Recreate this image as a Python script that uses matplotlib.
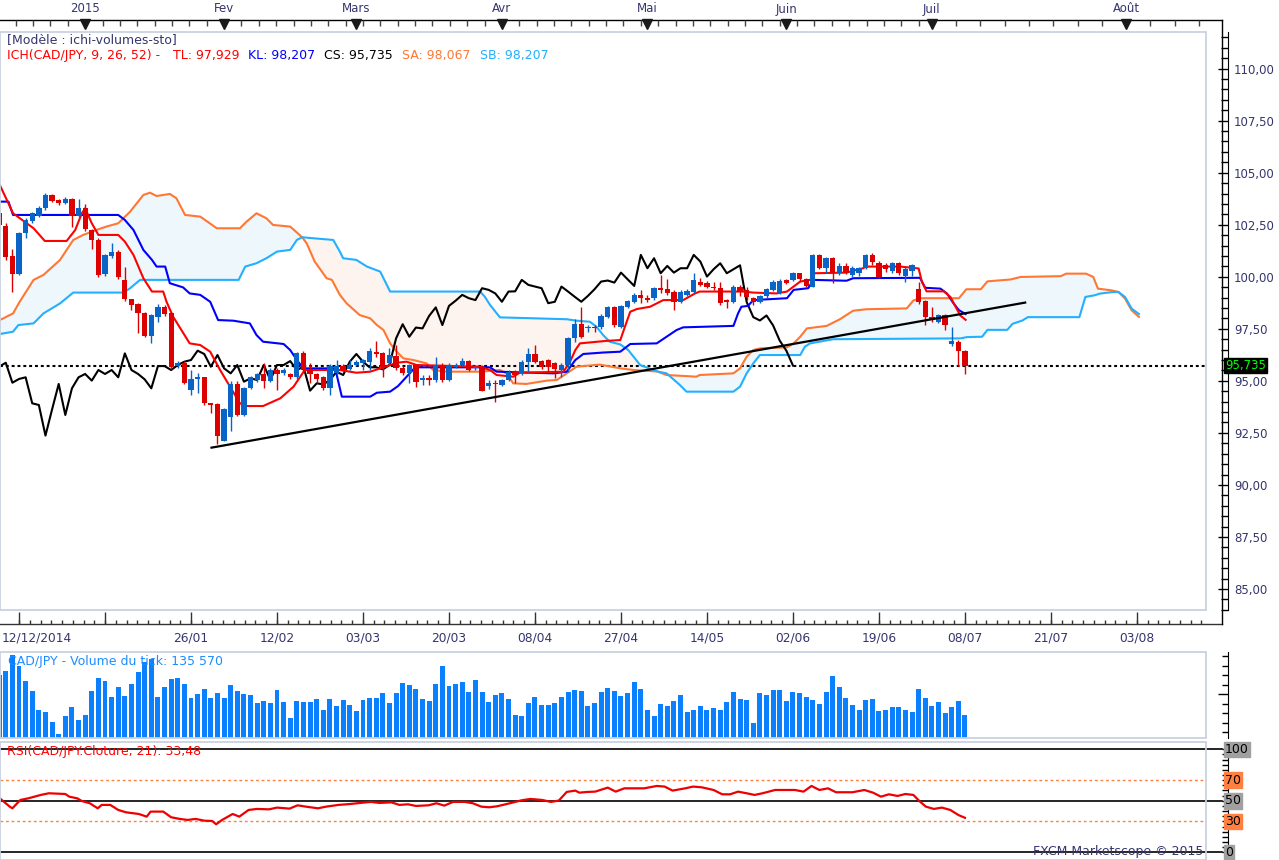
import numpy as np
import matplotlib.pyplot as plt
from matplotlib.patches import Rectangle
from matplotlib.lines import Line2D
from matplotlib.ticker import FuncFormatter, MultipleLocator, NullFormatter
import matplotlib.transforms as mtransforms

W, H = 1279, 860
PX0, DX = 191.0, 6.615  # pixel column of 26/01 and pixels per trading day


def xd(px):
    return (px - PX0) / DX


def rect(l, t, r, b):
    return [l / W, 1 - b / H, (r - l) / W, (b - t) / H]


# ---------------- data (trading-day index, 0 = 26/01/2015) ----------------
first_idx = -29
opens = [103.05, 102.44, 101.00, 100.13, 102.09, 102.70, 102.94, 103.29, 103.91, 103.69,
         103.56, 103.72, 102.92, 103.29, 102.25, 101.77, 100.13, 101.00, 101.21, 99.85,
         98.92, 98.69, 98.28, 97.17, 98.08, 98.56, 98.24, 95.71, 95.87, 94.56,
         95.07, 95.17, 93.92, 93.88, 92.13, 93.27, 94.85, 93.36, 94.64, 95.04,
         95.33, 95.01, 95.52, 95.36, 95.33, 95.17, 96.35, 95.52, 95.33, 95.20,
         94.64, 95.39, 95.71, 95.55, 95.76, 95.84, 95.92, 96.40, 96.35, 95.84,
         96.19, 95.63, 95.36, 95.76, 95.04, 95.12, 95.04, 95.76, 95.04, 95.65,
         95.76, 95.95, 95.60, 95.68, 94.75, 94.88, 94.80, 95.04, 95.44, 95.39,
         95.92, 96.29, 95.97, 96.00, 95.84, 95.52, 95.76, 97.04, 97.72, 97.52,
         97.56, 97.57, 98.05, 98.53, 97.60, 98.57, 98.80, 99.13, 98.97, 98.97,
         99.45, 99.40, 99.29, 98.80, 99.13, 99.29, 99.77, 99.72, 99.53, 99.45,
         98.88, 98.80, 99.53, 99.37, 98.97, 98.80, 99.08, 99.37, 99.20, 99.85,
         99.85, 100.17, 99.88, 99.53, 101.05, 100.41, 100.89, 100.17, 100.52, 100.09,
         100.17, 100.41, 101.05, 100.68, 100.57, 100.29, 100.65, 100.05, 100.30, 99.43,
         98.82, 98.06, 97.85, 98.14, 96.77, 96.89, 96.45]
highs = [103.20, 102.60, 101.34, 102.15, 102.80, 103.10, 103.40, 104.01, 104.00, 103.75,
         103.85, 103.78, 103.72, 103.48, 102.30, 101.85, 101.10, 101.61, 101.30, 100.49,
         98.95, 98.75, 98.30, 98.20, 98.70, 98.65, 98.30, 95.97, 95.97, 95.52,
         95.39, 95.20, 93.95, 93.95, 93.70, 95.00, 95.00, 94.70, 95.25, 95.40,
         95.87, 95.60, 95.60, 95.60, 95.40, 96.40, 96.45, 95.84, 95.40, 95.25,
         95.80, 96.00, 95.80, 96.00, 96.00, 96.05, 96.56, 96.90, 96.40, 96.56,
         96.70, 95.70, 95.80, 95.80, 95.28, 95.28, 96.16, 95.84, 95.84, 95.84,
         96.08, 96.00, 95.76, 95.76, 95.04, 95.04, 95.10, 95.50, 95.50, 96.00,
         96.56, 96.72, 96.00, 96.05, 95.90, 95.84, 97.10, 97.96, 98.53, 97.70,
         97.70, 98.20, 98.60, 98.60, 98.65, 98.90, 99.20, 99.37, 99.13, 99.50,
         100.09, 99.88, 99.35, 99.35, 99.40, 100.17, 99.93, 99.80, 99.77, 99.77,
         98.95, 99.60, 99.60, 99.53, 99.04, 99.13, 99.45, 99.85, 99.88, 99.90,
         100.25, 100.20, 99.95, 101.10, 101.10, 100.95, 100.95, 100.65, 100.65, 100.50,
         100.49, 101.10, 101.16, 100.75, 100.68, 100.70, 100.70, 100.45, 100.60, 99.75,
         98.90, 98.55, 98.20, 98.20, 97.58, 96.95, 96.50]
lows = [102.30, 100.80, 99.29, 100.08, 101.85, 102.60, 102.85, 103.20, 103.60, 103.45,
        103.50, 102.41, 102.85, 102.20, 101.34, 100.00, 100.05, 100.90, 99.88, 98.85,
        98.40, 97.28, 97.10, 96.83, 97.83, 98.10, 95.55, 95.60, 94.85, 94.32,
        94.43, 93.84, 93.44, 91.95, 92.10, 92.60, 93.30, 93.30, 94.60, 94.95,
        94.64, 94.95, 94.56, 95.30, 95.10, 95.10, 95.45, 94.88, 94.88, 94.55,
        94.32, 95.30, 95.45, 95.50, 95.70, 95.52, 95.52, 96.16, 95.20, 95.80,
        95.50, 95.30, 94.88, 94.72, 94.80, 94.80, 94.96, 94.96, 95.00, 95.60,
        95.70, 95.45, 95.52, 94.50, 94.59, 94.00, 94.75, 95.00, 94.88, 95.30,
        95.44, 95.85, 95.55, 95.36, 95.12, 95.20, 95.44, 96.88, 97.05, 97.36,
        97.36, 97.50, 98.00, 97.60, 97.55, 98.50, 98.75, 98.73, 98.80, 98.90,
        99.20, 99.13, 98.40, 98.75, 99.10, 99.20, 99.55, 99.45, 99.37, 98.64,
        98.48, 98.75, 99.08, 98.88, 98.64, 98.75, 99.00, 99.30, 99.17, 99.65,
        99.80, 99.80, 99.50, 99.50, 100.35, 100.17, 99.69, 100.10, 100.15, 100.00,
        100.04, 100.35, 100.57, 99.95, 100.25, 100.20, 100.10, 99.77, 100.04, 98.71,
        97.66, 97.82, 97.80, 97.42, 96.69, 95.72, 95.32]
closes = [102.50, 100.97, 100.13, 102.09, 102.73, 103.05, 103.32, 103.93, 103.66, 103.53,
          103.72, 102.92, 103.29, 102.28, 101.77, 100.09, 101.05, 101.17, 100.00, 98.92,
          98.64, 98.28, 97.17, 98.16, 98.56, 98.20, 95.68, 95.87, 94.91, 95.09,
          95.17, 93.92, 93.84, 92.37, 93.63, 94.85, 93.36, 94.64, 95.17, 95.33,
          95.01, 95.52, 95.33, 95.52, 95.17, 96.32, 95.52, 95.33, 95.07, 94.64,
          95.71, 95.71, 95.52, 95.76, 95.92, 96.00, 96.45, 96.29, 95.68, 96.24,
          95.60, 95.36, 95.76, 94.96, 95.12, 95.04, 95.76, 95.04, 95.76, 95.76,
          95.95, 95.52, 95.68, 94.53, 94.88, 94.83, 95.04, 95.44, 95.28, 95.92,
          96.29, 95.92, 95.65, 95.65, 95.55, 95.76, 97.04, 97.72, 97.12, 97.56,
          97.52, 98.12, 98.53, 97.68, 98.60, 98.85, 99.13, 98.97, 98.88, 99.45,
          99.37, 99.20, 98.80, 99.29, 99.30, 99.85, 99.61, 99.53, 99.45, 98.73,
          98.80, 99.53, 99.29, 99.04, 98.80, 99.08, 99.40, 99.77, 99.82, 99.72,
          100.20, 99.88, 99.56, 101.05, 100.41, 100.89, 100.17, 100.52, 100.20, 100.41,
          100.41, 101.05, 100.73, 100.01, 100.36, 100.65, 100.17, 100.36, 100.55, 98.79,
          98.06, 97.90, 98.14, 97.66, 96.93, 96.45, 95.735]
volume_k = [363, 389, 478, 419, 329, 275, 160, 148, 94, 24,
            130, 177, 106, 136, 275, 345, 329, 237, 297, 243,
            315, 383, 439, 459, 237, 297, 339, 345, 315, 231,
            255, 285, 231, 261, 231, 309, 275, 255, 249, 201,
            213, 201, 279, 207, 118, 213, 207, 207, 225, 165,
            225, 183, 219, 189, 154, 219, 231, 231, 261, 201,
            261, 321, 309, 285, 225, 213, 315, 417, 303, 315,
            327, 267, 333, 267, 207, 249, 261, 225, 136, 130,
            201, 237, 189, 189, 201, 237, 267, 279, 275, 183,
            201, 269, 291, 275, 243, 259, 327, 283, 160, 130,
            195, 183, 213, 249, 148, 165, 183, 165, 171, 160,
            207, 267, 225, 219, 88, 261, 249, 279, 279, 213,
            267, 261, 237, 219, 195, 267, 357, 297, 231, 189,
            160, 219, 225, 154, 160, 177, 177, 165, 148, 285,
            231, 183, 207, 142, 177, 213, 135.57]

# Ichimoku lines (index, price)
tenkan_x = [-28.9, -26.9, -23.8, -22.1, -18.8, -17.5, -16.5, -16.0, -15.0, -14.0, -11.0, -10.0, -8.7, -7.2,
            -5.9, -4.2, -3.7, -2.7, -0.2, 1.4, 2.9, 4.4, 5.9, 7.4, 8.4, 10.9, 13.5, 15.5, 17.2, 22.5, 25.0,
            27.1, 29.1, 31.1, 32.6, 34.1, 39.7, 43.7, 45.2, 46.2, 48.7, 49.7, 56.3, 57.3, 58.1, 58.8, 62.8,
            64.9, 65.6, 66.4, 67.4, 69.4, 71.4, 74.4, 76.2, 76.9, 83.5, 85.0, 88.5, 90.1, 91.1, 92.1, 93.6,
            94.3, 99.1, 100.1, 101.6, 102.1, 107.2, 110.0, 110.5, 111.2, 113.8, 114.8, 115.6, 116.3, 117.1]
tenkan_y = [104.41, 103.05, 102.33, 101.72, 101.72, 102.25, 103.05, 103.29, 102.57, 102.01, 102.01, 101.69,
            101.05, 99.93, 99.29, 99.29, 98.80, 98.08, 96.80, 96.72, 96.40, 95.52, 94.72, 93.92, 93.79, 93.79,
            94.16, 94.72, 95.52, 95.52, 95.39, 95.44, 95.65, 95.87, 95.92, 95.76, 95.71, 95.68, 95.52, 95.28,
            95.20, 95.39, 95.44, 95.92, 96.48, 96.80, 96.92, 96.96, 97.60, 98.32, 98.45, 98.56, 98.88, 98.88,
            99.20, 99.29, 99.29, 99.24, 99.20, 99.29, 99.53, 99.77, 99.85, 100.17, 100.20, 100.29, 100.41,
            100.49, 100.49, 100.40, 99.75, 99.30, 99.30, 99.03, 98.55, 98.14, 97.93]
kijun_x = [-28.9, -27.6, -26.9, -11.0, -10.0, -8.7, -7.2, -5.9, -5.2, -3.9, -3.2, -1.2, -0.2, 1.4, 2.9, 4.1,
           6.4, 8.9, 9.9, 10.9, 14.0, 15.0, 16.0, 17.0, 21.8, 22.8, 27.1, 28.1, 30.1, 31.3, 32.6, 33.9, 45.2,
           46.2, 54.8, 56.8, 58.1, 59.3, 62.3, 64.9, 66.4, 70.4, 71.9, 73.4, 74.4, 82.0, 82.7, 83.2, 84.2,
           85.0, 90.1, 91.1, 93.3, 94.1, 99.1, 100.1, 110.2, 111.0, 113.3, 114.3, 115.3, 116.1, 117.1]
kijun_y = [103.61, 103.61, 102.97, 102.97, 102.73, 102.25, 101.29, 100.81, 100.49, 100.49, 99.69, 99.49,
           99.20, 99.13, 98.80, 97.92, 97.89, 97.76, 97.20, 96.88, 96.77, 96.48, 96.00, 95.60, 95.60, 94.24,
           94.24, 94.43, 94.48, 94.75, 95.20, 95.65, 95.65, 95.44, 95.36, 95.44, 96.00, 96.29, 96.36, 96.40,
           96.77, 96.80, 97.12, 97.44, 97.57, 97.64, 98.24, 98.56, 98.60, 98.88, 98.97, 99.37, 99.45, 99.85,
           99.81, 99.93, 99.95, 99.47, 99.43, 99.19, 98.71, 98.39, 98.21]
sa_x = [-28.9, -26.9, -25.9, -23.8, -22.3, -19.8, -17.8, -16.3, -14.3, -12.8, -11.0, -9.2, -7.2, -6.2, -5.2,
        -3.2, -2.2, -0.9, 1.4, 3.9, 7.4, 8.4, 9.9, 11.4, 12.4, 15.0, 16.8, 17.5, 18.7, 20.5, 21.3, 22.5,
        23.5, 25.5, 27.1, 28.1, 29.1, 30.1, 31.1, 32.1, 33.6, 35.6, 36.6, 38.7, 43.7, 46.7, 47.7, 48.7,
        50.7, 53.8, 55.3, 56.8, 58.3, 61.8, 64.9, 66.9, 70.5, 71.9, 76.4, 76.9, 82.0, 83.0, 84.0, 85.0,
        86.0, 90.1, 91.1, 92.1, 93.1, 96.1, 98.1, 100.1, 102.1, 108.2, 109.2, 110.2, 116.1, 117.2, 119.4,
        120.4, 123.9, 125.4, 131.5, 132.3, 135.3, 136.4, 137.1, 139.1, 140.2, 141.2, 142.2, 143.3]
sa_y = [97.92, 98.24, 98.80, 99.85, 100.09, 100.81, 101.77, 102.01, 102.25, 102.41, 102.57, 103.13, 103.93,
        104.04, 103.88, 103.98, 103.77, 102.97, 102.89, 102.33, 102.33, 102.65, 103.05, 102.81, 102.49,
        102.41, 101.90, 101.60, 100.73, 99.93, 99.85, 99.13, 98.73, 98.16, 98.00, 97.68, 97.44, 96.80,
        96.40, 96.08, 96.00, 95.84, 95.52, 95.44, 95.44, 95.52, 95.36, 94.88, 94.85, 95.01, 95.04, 95.36,
        95.68, 95.78, 95.60, 95.52, 95.45, 95.28, 95.20, 95.28, 95.36, 95.60, 96.16, 96.48, 96.56, 96.61,
        96.80, 97.12, 97.52, 97.64, 97.96, 98.37, 98.44, 98.48, 98.86, 98.97, 98.97, 99.40, 99.40, 99.78,
        99.87, 99.99, 100.03, 100.15, 100.15, 99.99, 99.43, 99.35, 99.27, 98.95, 98.39, 98.07]
sb_x = [-28.9, -26.9, -26.1, -23.8, -22.3, -19.8, -17.8, -10.2, -9.2, -7.7, 7.2, 8.2, 9.9, 11.4, 13.0, 15.0,
        16.0, 16.8, 18.5, 21.5, 22.5, 23.0, 25.0, 26.6, 28.6, 30.1, 43.7, 44.4, 45.2, 46.7, 56.8, 58.3,
        60.3, 61.3, 62.3, 63.3, 64.9, 66.1, 67.9, 70.5, 71.9, 73.9, 74.9, 82.0, 83.0, 84.0, 85.0, 86.0,
        92.1, 92.8, 93.6, 97.1, 116.3, 117.3, 119.6, 120.4, 123.4, 124.2, 125.7, 126.5, 134.3, 135.2,
        136.6, 137.4, 139.4, 140.2, 141.2, 142.2, 143.3]
sb_y = [97.25, 97.36, 97.68, 97.76, 98.24, 98.72, 99.24, 99.24, 99.45, 99.85, 99.85, 100.49, 100.65, 100.89,
        101.21, 101.29, 101.77, 101.90, 101.85, 101.77, 101.21, 100.89, 100.81, 100.49, 100.25, 99.29,
        99.29, 99.05, 98.65, 98.05, 97.96, 97.89, 97.84, 97.60, 97.20, 96.88, 96.75, 96.48, 95.76, 95.45,
        95.36, 94.80, 94.48, 94.48, 94.72, 95.36, 95.84, 96.24, 96.24, 96.64, 96.80, 97.00, 97.04, 97.10,
        97.12, 97.45, 97.45, 97.74, 97.90, 98.06, 98.06, 99.03, 99.11, 99.19, 99.27, 99.27, 99.03, 98.47,
        98.21]
cloud_breaks = [-28.9, 16.8, 70.5, 140.2, 143.3]  # where Senkou A and B cross

trend_x = [3.1, 126.1]
trend_y = [91.79, 98.76]

rsi_x = [-28.9, -27.4, -27.0, -25.8, -24.6, -22.7, -21.5, -19.0, -18.4, -17.2, -16.5, -15.3, -14.1, -13.5,
         -12.2, -11.0, -9.8, -7.9, -6.7, -6.1, -4.2, -3.0, -1.7, -0.5, 0.7, 2.0, 3.2, 3.8, 4.7, 6.3, 7.3,
         8.7, 10.0, 11.8, 13.0, 14.9, 16.1, 17.4, 19.2, 20.4, 22.3, 24.1, 26.0, 27.2, 28.5, 30.3, 31.5,
         32.8, 34.0, 35.9, 37.1, 38.3, 39.6, 41.4, 42.6, 43.9, 45.1, 46.3, 48.2, 50.0, 51.3, 53.1, 54.4,
         55.6, 56.8, 58.1, 58.7, 59.9, 61.1, 63.0, 64.2, 65.5, 68.5, 70.4, 71.6, 72.8, 74.7, 75.9, 77.2,
         79.0, 80.3, 81.5, 82.7, 84.0, 85.2, 86.4, 88.3, 91.3, 92.6, 93.8, 95.0, 96.3, 97.5, 100.0, 101.8,
         103.1, 104.3, 105.5, 106.8, 108.0, 109.2, 110.2, 111.1, 112.3, 113.5, 114.8, 116.0, 117.0]
rsi_v = [52.4, 44.3, 42.7, 50.8, 52.4, 55.7, 57.3, 56.6, 54.0, 52.4, 49.8, 47.6, 42.7, 46.0, 46.0, 41.1,
         38.8, 37.2, 34.6, 39.5, 39.5, 34.0, 32.4, 31.4, 32.4, 30.7, 30.4, 27.2, 31.4, 37.2, 34.6, 41.1,
         42.1, 41.7, 43.4, 42.4, 45.6, 44.3, 42.7, 44.3, 46.0, 46.9, 48.2, 48.9, 47.9, 48.5, 46.0, 46.6,
         45.0, 45.6, 47.6, 45.3, 48.9, 48.9, 47.6, 44.3, 43.7, 44.7, 47.6, 50.5, 51.8, 50.8, 48.9, 50.2,
         58.6, 59.9, 57.9, 58.6, 58.9, 62.8, 58.9, 62.1, 62.1, 64.4, 63.8, 59.9, 62.1, 63.8, 63.1, 60.5,
         56.3, 56.3, 58.9, 57.3, 55.7, 57.3, 60.5, 60.5, 58.9, 64.4, 60.5, 62.1, 58.3, 58.3, 60.5, 57.9,
         54.0, 56.3, 54.7, 56.6, 55.7, 49.2, 44.3, 42.1, 43.4, 41.1, 36.2, 33.48]

month_pos = [-16, 5, 25, 47, 69, 90, 112, 141.35]
month_labels = ['2015', 'Fev', 'Mars', 'Avr', 'Mai', 'Juin', 'Juil', 'Août']
date_pos = [0, 13, 26, 39, 52, 65, 78, 91, 104, 117, 130, 143]
date_labels = ['26/01', '12/02', '03/03', '20/03', '08/04', '27/04', '14/05', '02/06',
               '19/06', '08/07', '21/07', '03/08']

# ---------------- style ----------------
NAVY = '#35356d'
FRAME = '#c8d2df'
CANDLE_UP, CANDLE_DN = '#0a64c8', '#dd0000'
TENKAN, KIJUN, SPAN_A, SPAN_B = '#ff0000', '#0000ff', '#ff7733', '#22b0ff'
CLOUD_UP, CLOUD_DN = '#eef7fc', '#fdf3ef'
VOLC = '#0a80ff'
ORANGE_LVL = '#ff8040'
GRAY_LVL = '#a0a0a0'
AXIS_PX = 1222  # pixel column of the right-hand scales

fig = plt.figure(figsize=(W / 100, H / 100), dpi=100)
fig.patch.set_facecolor('white')
XL, XR = xd(0), xd(1206)


def ftext(px, py, s, **kw):
    fig.text(px / W, 1 - py / H, s, **kw)


def frame(a):
    a.add_patch(Rectangle((0, 0), 1, 1, transform=a.transAxes, fill=False, ec=FRAME,
                          lw=1.3, clip_on=False, zorder=10))


def right_scale(a):
    for s in ('top', 'left', 'bottom'):
        a.spines[s].set_visible(False)
    a.spines['right'].set_position(('outward', AXIS_PX - 1206))
    a.set_xticks([])
    a.yaxis.tick_right()


x = np.arange(first_idx, first_idx + len(closes))
o, hi, lo, c = map(np.array, (opens, highs, lows, closes))

# ---------------- price panel ----------------
ax = fig.add_axes(rect(0, 32, 1206, 610))
ax.set_xlim(XL, XR)
ax.set_ylim(83.99, 111.76)
right_scale(ax)
ax.yaxis.set_major_locator(MultipleLocator(2.5))
ax.yaxis.set_minor_locator(MultipleLocator(0.5))
ax.yaxis.set_major_formatter(FuncFormatter(lambda v, p: f'{v:.2f}'.replace('.', ',')))
ax.tick_params(axis='y', which='major', direction='in', length=7, width=1, color='black',
               labelcolor=NAVY, labelsize=8.5, pad=4)
ax.tick_params(axis='y', which='minor', direction='in', length=5, width=1, color='black')
frame(ax)

sa_x, sa_y, sb_x, sb_y = map(np.array, (sa_x, sa_y, sb_x, sb_y))
for k in range(len(cloud_breaks) - 1):
    a, b = cloud_breaks[k], cloud_breaks[k + 1]
    ma = (sa_x >= a) & (sa_x <= b)
    mb = (sb_x >= a) & (sb_x <= b)
    up = sa_y[ma].mean() >= sb_y[mb].mean()
    ax.fill(np.r_[sa_x[ma], sb_x[mb][::-1]], np.r_[sa_y[ma], sb_y[mb][::-1]],
            color=CLOUD_UP if up else CLOUD_DN, lw=0, zorder=1)

ax.axhline(c[-1], color='black', lw=1.5, ls=(0, (1.4, 1.4)), zorder=2)
ax.plot(sa_x, sa_y, color=SPAN_A, lw=1.5, zorder=3)
ax.plot(sb_x, sb_y, color=SPAN_B, lw=1.5, zorder=3)
ax.plot(x - 26, c, color='black', lw=1.5, zorder=3)
ax.plot(kijun_x, kijun_y, color=KIJUN, lw=1.5, zorder=3)
ax.plot(tenkan_x, tenkan_y, color=TENKAN, lw=1.5, zorder=3)

col = np.where(c >= o, CANDLE_UP, CANDLE_DN)
ax.vlines(x, lo, hi, colors=col, lw=1, zorder=4)
ax.bar(x, np.maximum(np.abs(c - o), 0.05), bottom=np.minimum(o, c), width=0.8,
       color=col, lw=0, zorder=5)
ax.plot(trend_x, trend_y, color='black', lw=1.6, zorder=6)

tr = mtransforms.blended_transform_factory(fig.transFigure, ax.transData)
ax.text(1225 / W, c[-1], f'{c[-1]:.3f}'.replace('.', ','), transform=tr, color='#00ff00',
        fontsize=8.5, va='center', ha='left', zorder=12,
        bbox=dict(boxstyle='square,pad=0.12', fc='black', ec='black'))
fig.add_artist(Line2D([AXIS_PX / W] * 2, [1 - 19.5 / H, 1 - 624 / H], color='black', lw=1))

ftext(7, 40, '[Modèle : ichi-volumes-sto]', color=NAVY, fontsize=9, va='center')
for px, s, cl in [(7, 'ICH(CAD/JPY, 9, 26, 52) -', TENKAN), (173, 'TL: 97,929', TENKAN),
                  (248, 'KL: 98,207', KIJUN), (324, 'CS: 95,735', 'black'),
                  (402, 'SA: 98,067', SPAN_A), (480, 'SB: 98,207', SPAN_B)]:
    ftext(px, 55, s, color=cl, fontsize=9, va='center')

# ---------------- top month strip ----------------
axt = fig.add_axes(rect(0, 0, 1206, 32))
axt.set_xlim(XL, XR)
axt.set_ylim(32, 0)
axt.axis('off')
axt.plot([XL, xd(AXIS_PX)], [19.5, 19.5], color='black', lw=1, clip_on=False)
top_minor = np.r_[np.arange(-16 - 2.625 * 4, 112, 2.625), np.arange(112, 157, 3.67)]
axt.vlines(top_minor, 19.5, 25.5, color='#444444', lw=1)
axt.plot(month_pos, [23.5] * len(month_pos), 'v', color='#1a1a1a', ms=7, clip_on=False)
for mx, ml in zip(month_pos, month_labels):
    axt.text(mx, 9, ml, ha='center', va='center', color=NAVY, fontsize=8.5)

# ---------------- bottom date strip ----------------
axb = fig.add_axes(rect(0, 610, 1206, 652))
axb.set_xlim(XL, XR)
axb.set_ylim(652, 610)
axb.axis('off')
axb.plot([XL, xd(AXIS_PX)], [624, 624], color='#333333', lw=1, clip_on=False)
axb.vlines(np.arange(-26, 156, 13), 612, 624, color='#333333', lw=1)
axb.vlines(np.arange(-26, 156, 13 / 8), 620, 624, color='#333333', lw=1)
for dx_, dl in zip(date_pos, date_labels):
    axb.text(dx_, 638, dl, ha='center', va='center', color=NAVY, fontsize=8.8)
axb.text(XL + 0.25, 638, '12/12/2014', ha='left', va='center', color=NAVY, fontsize=8.8)

# ---------------- volume panel ----------------
axv = fig.add_axes(rect(0, 652, 1206, 738))
axv.set_xlim(XL, XR)
axv.set_ylim(0, 498)
right_scale(axv)
axv.set_yticks([254])
axv.set_yticks([34, 89, 144, 199, 309, 364, 419, 474], minor=True)
axv.yaxis.set_major_formatter(NullFormatter())
axv.tick_params(axis='y', which='major', direction='in', length=7, width=1, color='black')
axv.tick_params(axis='y', which='minor', direction='in', length=4, width=1, color='black')
axv.bar(x, volume_k, width=0.75, color=VOLC, lw=0, zorder=2)
frame(axv)
ftext(8, 662, 'CAD/JPY - Volume du tick: 135 570', color='#1e8cff', fontsize=9, va='center')

# ---------------- RSI panel ----------------
axr = fig.add_axes(rect(0, 742, 1206, 860))
axr.set_xlim(XL, XR)
axr.set_ylim(-7.5, 107.1)
right_scale(axr)
axr.set_yticks(np.arange(0, 101, 5))
axr.yaxis.set_major_formatter(NullFormatter())
axr.tick_params(axis='y', direction='in', length=4, width=1, color='black')
frame(axr)
for lvl in (0, 50, 100):
    axr.plot([XL, xd(AXIS_PX)], [lvl, lvl], color='black', lw=1.2, clip_on=False, zorder=2)
for lvl in (30, 70):
    axr.plot([XL, xd(1204)], [lvl, lvl], color=ORANGE_LVL, lw=1, ls=(0, (2, 2)),
             clip_on=False, zorder=2)
axr.plot(rsi_x, rsi_v, color='#ee0000', lw=1.6, zorder=3)
tr2 = mtransforms.blended_transform_factory(fig.transFigure, axr.transData)
for lvl, bg in [(100, GRAY_LVL), (70, ORANGE_LVL), (50, GRAY_LVL), (30, ORANGE_LVL), (0, GRAY_LVL)]:
    axr.text(1225 / W, lvl, str(lvl), transform=tr2, color='black', fontsize=9,
             va='center', ha='left', clip_on=False,
             bbox=dict(boxstyle='square,pad=0.1', fc=bg, ec=bg))
ftext(7, 751, 'RSI(CAD/JPY.Cloture, 21): 33,48', color='#ff0000', fontsize=9, va='center')
ftext(1203, 851, 'FXCM Marketscope © 2015', color=NAVY, fontsize=9, va='center', ha='right')

fig.savefig('out.png', dpi=100)
